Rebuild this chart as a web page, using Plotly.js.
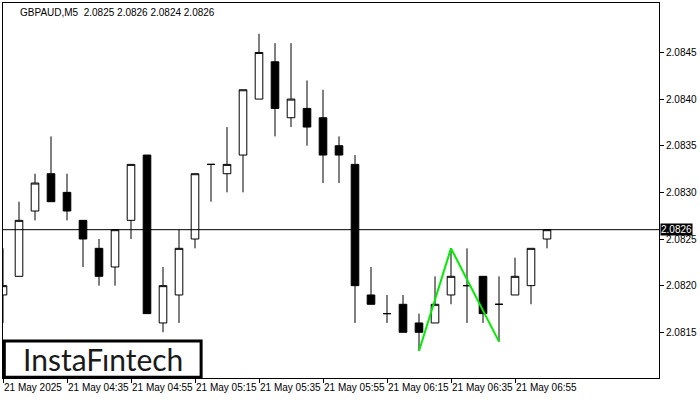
<!DOCTYPE html>
<html>
<head>
<meta charset="utf-8">
<script src="https://cdn.plot.ly/plotly-3.0.1.min.js"></script>
<style>
html,body{margin:0;padding:0;background:#fff;}
#chart{width:700px;height:400px;}
</style>
</head>
<body>
<div id="chart"></div>
<script>
// Bar index (5-minute bars starting 21 May 04:15)
var barIndex = [0,1,2,3,4,5,6,7,8,9,10,11,12,13,14,15,16,17,18,19,20,21,22,23,24,25,26,27,28,29,30,31,32,33,34];
var openVals  = [2.0819,2.0821,2.0828,2.0832,2.0830,2.0827,2.0824,2.0822,2.0827,2.0834,2.0816,2.0819,2.0825,2.0833,2.0832,2.0834,2.0840,2.0844,2.0838,2.0839,2.0838,2.0835,2.0833,2.0819,2.0817,2.0818,2.0816,2.0816,2.0819,2.0820,2.0821,2.0818,2.0819,2.0820,2.0825];
var highVals  = [2.0824,2.0829,2.0832,2.0836,2.0832,2.0827,2.0825,2.0826,2.0833,2.0834,2.0822,2.0826,2.0832,2.0833,2.0837,2.0841,2.0847,2.0846,2.0846,2.0842,2.0841,2.0836,2.0834,2.0822,2.0819,2.0819,2.0817,2.0821,2.0824,2.0824,2.0821,2.0821,2.0823,2.0824,2.0826];
var lowVals   = [2.0816,2.0821,2.0827,2.0829,2.0827,2.0822,2.0820,2.0820,2.0825,2.0817,2.0815,2.0816,2.0824,2.0829,2.0830,2.0830,2.0840,2.0836,2.0837,2.0835,2.0831,2.0831,2.0816,2.0818,2.0816,2.0815,2.0813,2.0816,2.0818,2.0816,2.0816,2.0814,2.0819,2.0818,2.0824];
var closeVals = [2.0820,2.0827,2.0831,2.0829,2.0828,2.0825,2.0821,2.0826,2.0833,2.0817,2.0820,2.0824,2.0832,2.0833,2.0833,2.0841,2.0845,2.0839,2.0840,2.0837,2.0834,2.0834,2.0820,2.0818,2.0817,2.0815,2.0815,2.0818,2.0821,2.0820,2.0817,2.0818,2.0821,2.0824,2.0826];

// Pattern (double top) lines
var patternX = [26, 28, 31];
var patternY = [2.0813, 2.0824, 2.0814];

// Axis ticks
var xTickVals = [0,4,8,12,16,20,24,28,32];
var xTickText = ["21 May 2025","21 May 04:35","21 May 04:55","21 May 05:15","21 May 05:35","21 May 05:55","21 May 06:15","21 May 06:35","21 May 06:55"];
var yTickVals = [2.0815,2.0820,2.0825,2.0830,2.0835,2.0840,2.0845];
var currentPrice = 2.0826;
var titleText = "GBPAUD,M5 \u00a02.0825 2.0826 2.0824 2.0826";
var logoText = "InstaF\u0131ntech";

var FONT = "Liberation Sans, Arial, sans-serif";

var traces = [
  {
    type: "candlestick",
    x: barIndex, open: openVals, high: highVals, low: lowVals, close: closeVals,
    increasing: {line: {color: "#000000", width: 1}, fillcolor: "#ffffff"},
    decreasing: {line: {color: "#000000", width: 1}, fillcolor: "#000000"},
    whiskerwidth: 0,
    hoverinfo: "skip",
    showlegend: false
  },
  {
    type: "scatter", mode: "lines",
    x: patternX, y: patternY,
    line: {color: "#00ee00", width: 2},
    hoverinfo: "skip", showlegend: false
  }
];

var layout = {
  width: 700, height: 400,
  margin: {l: 3, r: 41, t: 3, b: 22, pad: 0},
  paper_bgcolor: "#ffffff",
  plot_bgcolor: "#ffffff",
  showlegend: false,
  boxgap: 0.32,
  font: {family: FONT, size: 10, color: "#000000"},
  xaxis: {
    type: "linear",
    range: [0, 41],
    rangeslider: {visible: false},
    showgrid: false, zeroline: false,
    showline: true, linecolor: "#000000", linewidth: 1, mirror: true,
    tickmode: "array", tickvals: xTickVals, ticktext: xTickText,
    ticks: "outside", ticklen: 4, tickcolor: "#000000",
    tickangle: 0,
    ticklabelposition: "outside right",
    tickfont: {family: FONT, size: 10, color: "#000000"},
    fixedrange: true
  },
  yaxis: {
    range: [2.08101, 2.08503],
    side: "right",
    showgrid: false, zeroline: false,
    showline: true, linecolor: "#000000", linewidth: 1, mirror: true,
    tickmode: "array", tickvals: yTickVals,
    tickformat: ".4f",
    ticks: "outside", ticklen: 4, tickcolor: "#000000",
    tickfont: {family: FONT, size: 10, color: "#000000"},
    fixedrange: true
  },
  shapes: [
    {type: "line", xref: "paper", x0: 0, x1: 1, yref: "y", y0: currentPrice, y1: currentPrice,
     line: {color: "#000000", width: 1}, layer: "above"},
    {type: "rect", xref: "paper", x0: 0.002, x1: 0.302, yref: "paper", y0: 0.002, y1: 0.0987,
     fillcolor: "#ffffff", line: {color: "#000000", width: 3}, layer: "above"}
  ],
  annotations: [
    {xref: "paper", yref: "paper", x: 0.0229, y: 0.976, xanchor: "left", yanchor: "middle",
     text: titleText, showarrow: false, font: {family: FONT, size: 10, color: "#000000"}},
    {xref: "paper", yref: "y", x: 1, y: currentPrice, xanchor: "left", yanchor: "middle", xshift: 1,
     text: currentPrice.toFixed(4), showarrow: false, bgcolor: "#000000", borderpad: 0,
     font: {family: FONT, size: 10, color: "#ffffff"}},
    {xref: "paper", yref: "paper", x: 0.153, y: 0.05, xanchor: "center", yanchor: "middle",
     text: logoText, showarrow: false, font: {family: "Lato, Noto Sans, sans-serif", size: 30, color: "#1a1a1a"}}
  ]
};

Plotly.newPlot("chart", traces, layout, {displayModeBar: false, staticPlot: true});
</script>
</body>
</html>
